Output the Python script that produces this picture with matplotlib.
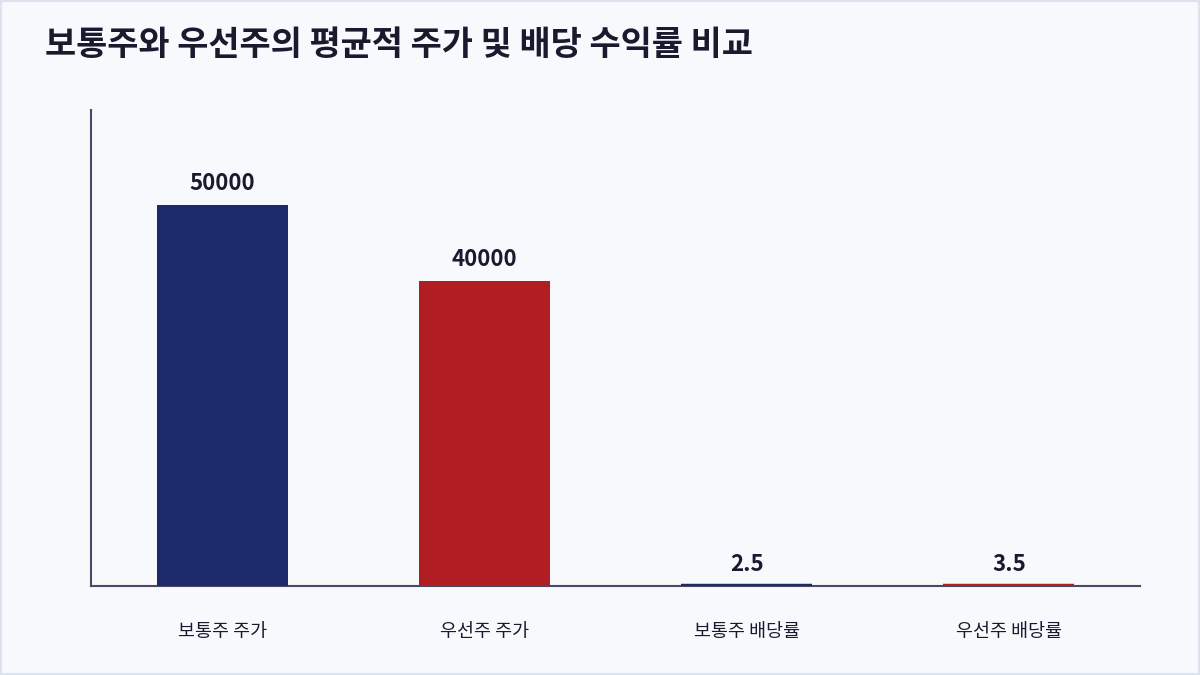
import matplotlib
matplotlib.use("Agg")
import matplotlib.pyplot as plt
from matplotlib.patches import Rectangle

plt.rcParams['font.family'] = ['Noto Sans CJK KR', 'DejaVu Sans']

categories = ["보통주 주가", "우선주 주가", "보통주 배당률", "우선주 배당률"]
values = [50000, 40000, 2.5, 3.5]
colors = ["#1c2a6b", "#b01e23", "#1c2a6b", "#b01e23"]
title = "보통주와 우선주의 평균적 주가 및 배당 수익률 비교"

bg = "#f7f9fd"
fig = plt.figure(figsize=(12, 6.75), dpi=100, facecolor=bg)
fig.patches.append(Rectangle((0, 0), 1, 1, transform=fig.transFigure,
                             fill=False, edgecolor="#dde3ee", linewidth=3, zorder=10))
ax = fig.add_axes([91/1200, 1-586/675, (1140-91)/1200, (586-110)/675])
ax.set_facecolor(bg)

x = list(range(len(categories)))
ymax = 62500
# tiny bars get an outline so they stay visible (minimum rendered height)
lws = [3.2 if v < ymax * 0.005 else 0 for v in values]
bars = ax.bar(x, values, width=0.5, color=colors, edgecolor=colors, linewidth=lws, zorder=1)
ax.set_xlim(-0.5, len(categories) - 0.5)
ax.set_ylim(0, ymax)

for xi, v in zip(x, values):
    ax.annotate(f"{v:g}", xy=(xi, v), xytext=(0, 7.5), textcoords="offset points",
                ha="center", va="bottom", fontsize=16, fontweight="bold", color="#1a1a2e")

ax.set_xticks(x)
ax.set_xticklabels(categories, fontsize=13.3, color="#1a1a2e", fontweight="medium")
ax.tick_params(axis="x", length=0, pad=27)
ax.set_yticks([])
for s in ["top", "right"]:
    ax.spines[s].set_visible(False)
for s in ["left", "bottom"]:
    ax.spines[s].set_color("#4a4a66")
    ax.spines[s].set_linewidth(1.5)
    ax.spines[s].set_zorder(0.5)

fig.text(45/1200, 1-45/675, title, ha="left", va="center", fontsize=24.4,
         fontweight="bold", color="#1a1a2e")

fig.savefig("out.png", dpi=100, facecolor=bg)
